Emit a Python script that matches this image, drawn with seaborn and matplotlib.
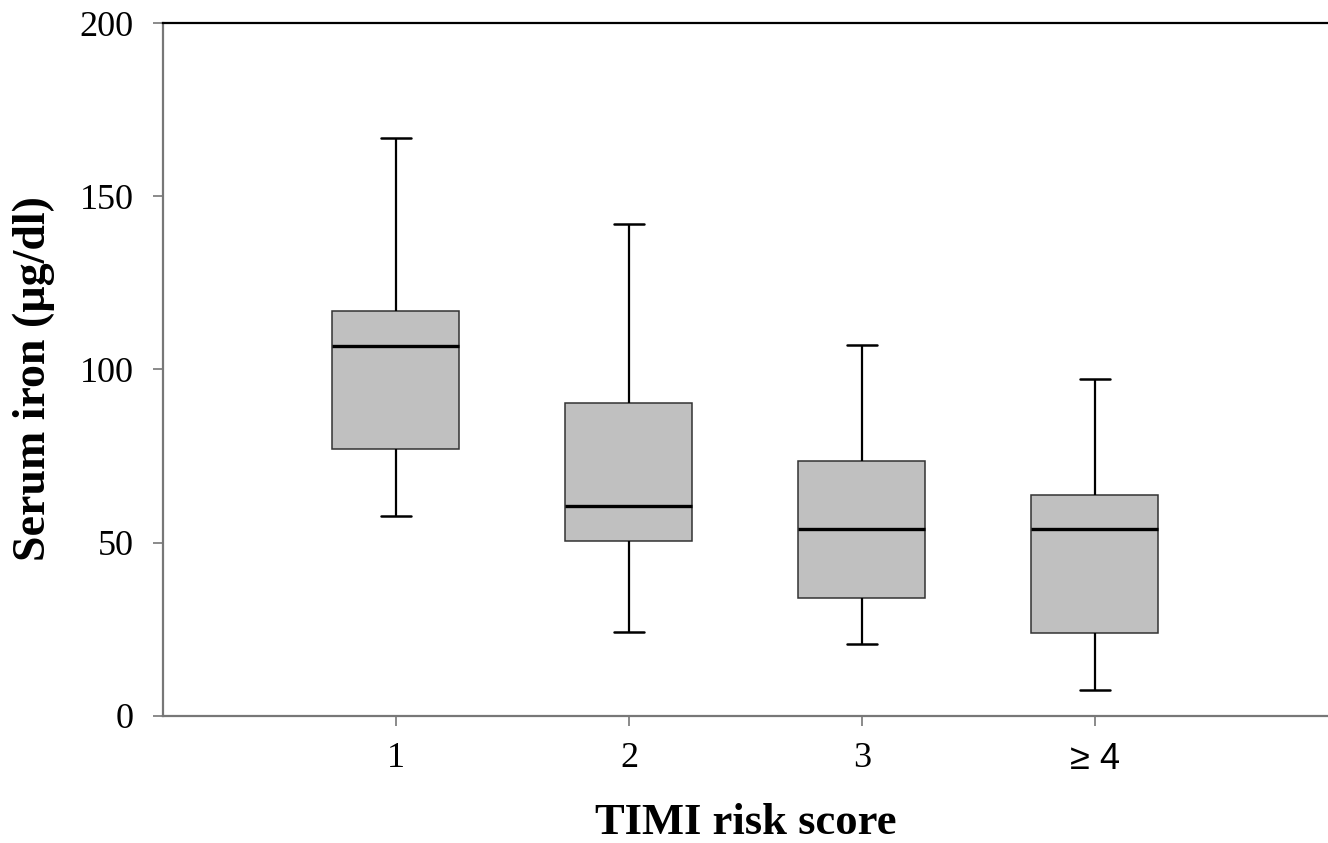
import numpy as np
import pandas as pd
import matplotlib
matplotlib.use("Agg")
import matplotlib.pyplot as plt
import seaborn as sns

# five-number summaries (whiskers = min/max)
scores = ['1', '2', '3', '\u2265 4']
whisker_low = [57.8, 24.1, 20.7, 7.4]
q1 = [77.0, 50.5, 33.9, 24.0]
median = [106.9, 60.6, 53.8, 53.8]
q3 = [117.0, 90.4, 73.7, 63.8]
whisker_high = [167.0, 141.9, 107.1, 97.2]

y_ticks = [0, 50, 100, 150, 200]

rows = []
for i, s in enumerate(scores):
    for v in (whisker_low[i], q1[i], median[i], q3[i], whisker_high[i]):
        rows.append({'score': s, 'iron': v})
df = pd.DataFrame(rows)

sns.set_theme(style="white")
plt.rcParams['font.family'] = ['Liberation Serif', 'DejaVu Serif']
plt.rcParams['text.color'] = 'black'
plt.rcParams['axes.labelcolor'] = 'black'

fig = plt.figure(figsize=(13.28, 8.43), dpi=100)
ax = fig.add_axes([0.1227, 0.151, 0.8773, 0.8214])

sns.boxplot(data=df, x='score', y='iron', order=scores, ax=ax,
            whis=(0, 100), width=0.545, color='#c0c0c0', saturation=1,
            showfliers=False, capwidths=0.125,
            boxprops=dict(edgecolor='#333333', linewidth=1.1),
            medianprops=dict(color='black', linewidth=2.4),
            whiskerprops=dict(color='black', linewidth=1.6),
            capprops=dict(color='black', linewidth=1.8))

ax.set_xlim(-1, 4)
ax.set_ylim(0, 200)
ax.set_yticks(y_ticks)
ax.set_yticklabels([str(t) for t in y_ticks])

for side in ['left', 'bottom']:
    ax.spines[side].set_color('#777777')
    ax.spines[side].set_linewidth(1.6)
ax.spines['top'].set_color('black')
ax.spines['top'].set_linewidth(1.6)
ax.spines['right'].set_visible(False)

ax.tick_params(axis='both', which='major', direction='out', length=7,
               width=1.2, color='#777777', labelsize=26, labelcolor='black')
ax.tick_params(axis='x', bottom=True, pad=12)
ax.tick_params(axis='y', left=True, pad=14)
ax.get_xticklabels()[-1].set_family(['Liberation Sans', 'DejaVu Sans'])

ax.set_xlabel('TIMI risk score', fontsize=32, fontweight='bold', labelpad=19)
ax.set_ylabel('Serum iron (\u00b5g/dl)', fontsize=33, fontweight='bold')
ax.yaxis.set_label_coords(-0.093, 0.487)
ax.grid(False)

fig.savefig('out.png', dpi=100)
